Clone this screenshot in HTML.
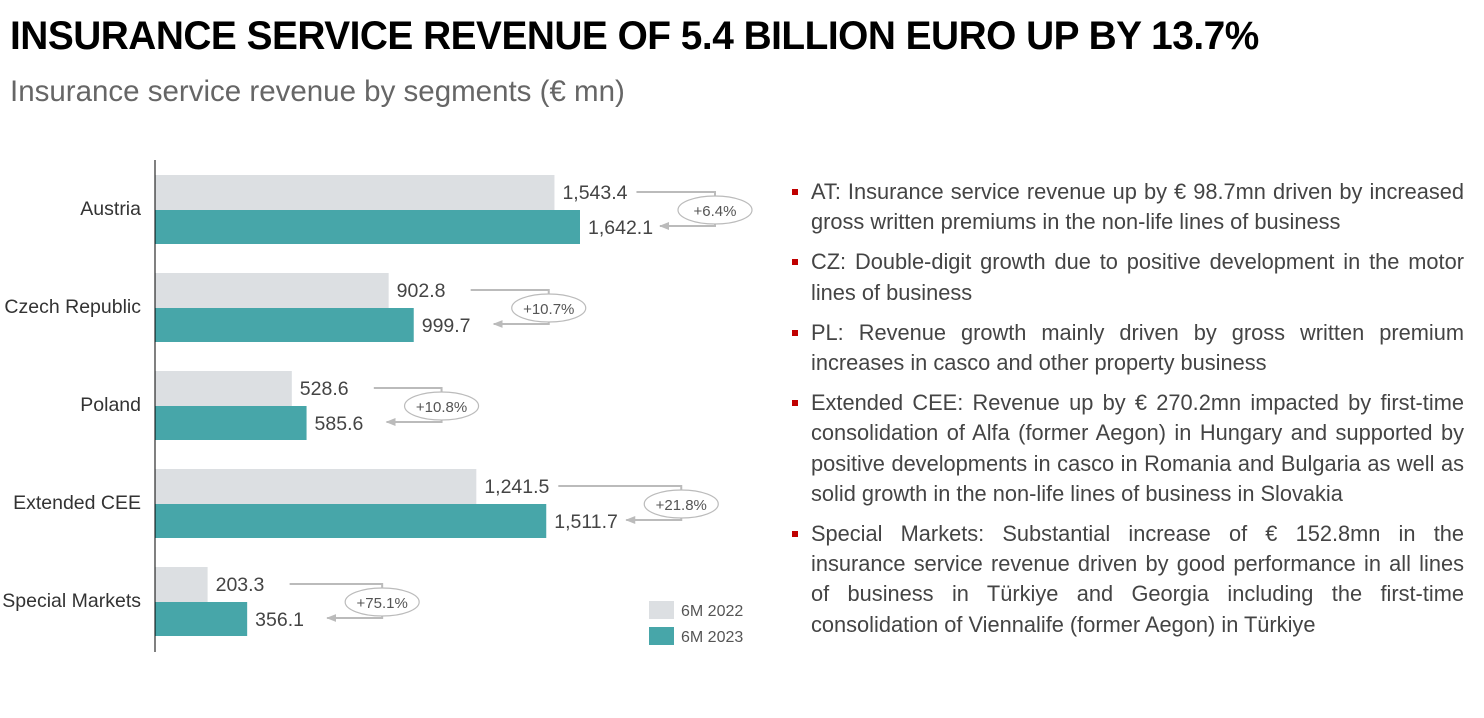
<!DOCTYPE html>
<html><head><meta charset="utf-8"><style>
body{margin:0;width:1484px;height:718px;background:#fff;font-family:"Liberation Sans",sans-serif;overflow:hidden;position:relative}
#title{position:absolute;left:10px;top:14px;font-size:40px;font-weight:bold;white-space:nowrap;transform-origin:0 0;transform:scaleX(0.97);color:#000;letter-spacing:-0.5px}
#sub{position:absolute;left:10px;top:75px;font-size:29.5px;color:#666}
#notes{position:absolute;left:792px;top:177px;width:672px;font-size:21.8px;color:#444;line-height:30.2px;margin:0;padding:0;list-style:none}
#notes li{position:relative;padding-left:19px;text-align:justify;margin-bottom:10px}
#notes li::before{content:"";position:absolute;left:0;top:12px;width:6px;height:6px;background:#c00000}
</style></head><body>
<div id="title">INSURANCE SERVICE REVENUE OF 5.4 BILLION EURO UP BY 13.7%</div>
<div id="sub">Insurance service revenue by segments (€ mn)</div>
<svg id="chart" width="780" height="718" style="position:absolute;left:0;top:0" font-family="Liberation Sans, sans-serif"></svg>
<ul id="notes">
<li>AT: Insurance service revenue up by € 98.7mn driven by increased gross written premiums in the non-life lines of business</li>
<li>CZ: Double-digit growth due to positive development in the motor lines of business</li>
<li>PL: Revenue growth mainly driven by gross written premium increases in casco and other property business</li>
<li>Extended CEE: Revenue up by € 270.2mn impacted by first-time consolidation of Alfa (former Aegon) in Hungary and supported by positive developments in casco in Romania and Bulgaria as well as solid growth in the non-life lines of business in Slovakia</li>
<li>Special Markets: Substantial increase of € 152.8mn in the insurance service revenue driven by good performance in all lines of business in Türkiye and Georgia including the first-time consolidation of Viennalife (former Aegon) in Türkiye</li>
</ul>
<script>
const categories=["Austria","Czech Republic","Poland","Extended CEE","Special Markets"];
const values2022=[1543.4,902.8,528.6,1241.5,203.3];
const values2023=[1642.1,999.7,585.6,1511.7,356.1];
const growthLabels=["+6.4%","+10.7%","+10.8%","+21.8%","+75.1%"];
const seriesNames=["6M 2022","6M 2023"];
const svg=document.getElementById('chart');
const NS="http://www.w3.org/2000/svg";
const x0=155,scale=425/1642.1;
const xs=v=>x0+v*scale;
const yBand=i=>175+i*98;
function mk(t,a){const e=document.createElementNS(NS,t);for(const k in a)e.setAttribute(k,a[k]);svg.appendChild(e);return e;}
const fmt=v=>v.toLocaleString('en-US',{minimumFractionDigits:1,maximumFractionDigits:1});
const defs=mk('defs',{});
const mrk=document.createElementNS(NS,'marker');
mrk.setAttribute('id','arr');mrk.setAttribute('markerUnits','userSpaceOnUse');mrk.setAttribute('markerWidth','10');mrk.setAttribute('markerHeight','8');mrk.setAttribute('refX','9');mrk.setAttribute('refY','4');mrk.setAttribute('orient','auto');
const mp=document.createElementNS(NS,'path');mp.setAttribute('d','M0,0 L10,4 L0,8 Z');mp.setAttribute('fill','#bbb');mrk.appendChild(mp);defs.appendChild(mrk);
categories.forEach((c,i)=>{
  const y=yBand(i);
  const g=mk('rect',{x:x0,y:y,width:xs(values2022[i])-x0,height:35,fill:'#dcdfe2'});
  
  const t=mk('rect',{x:x0,y:y+35,width:xs(values2023[i])-x0,height:34,fill:'#47a6a9'});
  
  const lab=mk('text',{x:141,y:y+40,'text-anchor':'end','font-size':19.5,fill:'#333'});lab.textContent=c;
  
  const ge=xs(values2022[i]),te=xs(values2023[i]);
  const v1=mk('text',{x:ge+8,y:y+24,'font-size':19.5,fill:'#444'});v1.textContent=fmt(values2022[i]);
  
  const v2=mk('text',{x:te+8,y:y+59,'font-size':19.5,fill:'#444'});v2.textContent=fmt(values2023[i]);
  
  const ex=te+135;
  const l1=mk('path',{d:`M${ge+82},${y+17} H${ex} V${y+51} H${te+80}`,fill:'none',stroke:'#bbb','stroke-width':2,'marker-end':'url(#arr)'});
  
  const el=mk('ellipse',{cx:ex,cy:y+35,rx:37,ry:14,fill:'#fff',stroke:'#bbb','stroke-width':1.2});
  
  const gt=mk('text',{x:ex,y:y+41,'text-anchor':'middle','font-size':15,fill:'#555'});gt.textContent=growthLabels[i];
  
});
const ax=mk('line',{x1:x0,y1:160,x2:x0,y2:652,stroke:'#000','stroke-width':1});

const cols=['#dcdfe2','#47a6a9'];
seriesNames.forEach((n,k)=>{
  const r=mk('rect',{x:649,y:601+k*26,width:25,height:18,fill:cols[k]});
  
  const tt=mk('text',{x:681,y:616+k*26,'font-size':16,fill:'#555'});tt.textContent=n;
  
});
</script>
</body></html>
